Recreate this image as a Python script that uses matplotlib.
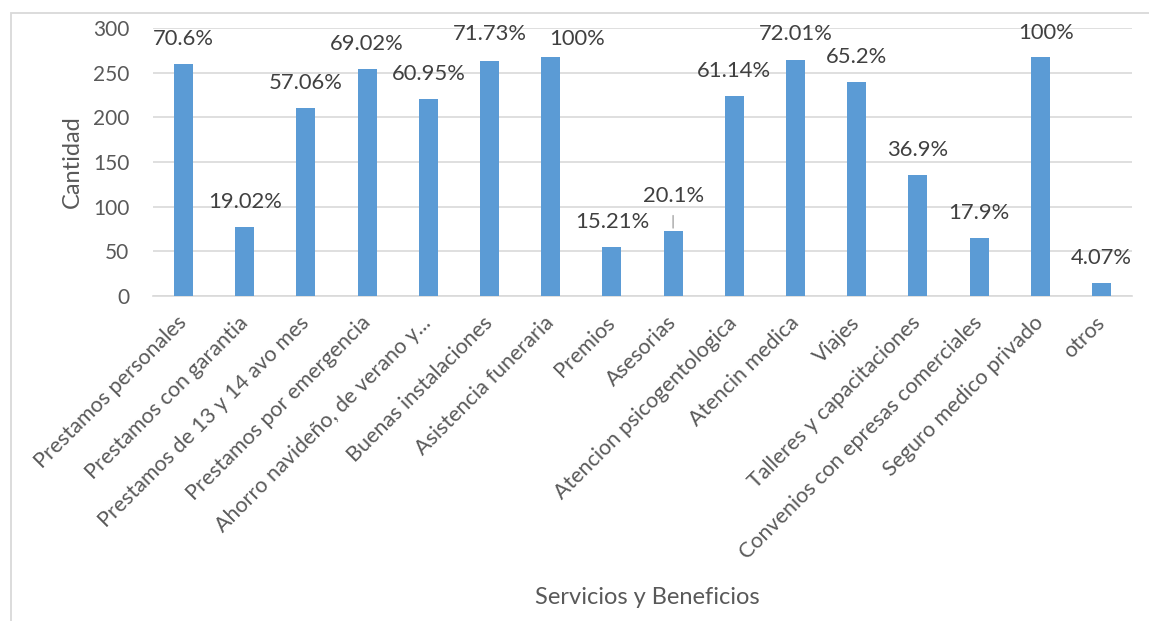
import matplotlib
matplotlib.use("Agg")
import matplotlib.pyplot as plt
from matplotlib.patches import Rectangle

plt.rcParams["font.family"] = ["Lato", "DejaVu Sans"]

categorias = [
    "Prestamos personales", "Prestamos con garantia", "Prestamos de 13 y 14 avo mes",
    "Prestamos por emergencia", "Ahorro navideño, de verano y...", "Buenas instalaciones",
    "Asistencia funeraria", "Premios", "Asesorias", "Atencion psicogentologica",
    "Atencin medica", "Viajes", "Talleres y capacitaciones",
    "Convenios con epresas comerciales", "Seguro medico privado", "otros",
]
cantidad = [260, 77, 210, 254, 220, 263, 268, 55, 73, 224, 264, 240, 135, 65, 268, 14]
porcentajes = ["70.6%", "19.02%", "57.06%", "69.02%", "60.95%", "71.73%", "100%", "15.21%",
               "20.1%", "61.14%", "72.01%", "65.2%", "36.9%", "17.9%", "100%", "4.07%"]
y_ticks = [0, 50, 100, 150, 200, 250, 300]

azul = "#5B9BD5"
gris_txt = "#595959"
gris_linea = "#D9D9D9"

fig = plt.figure(figsize=(11.49, 6.21), dpi=100)
ax = fig.add_axes([153 / 1149, 1 - 296 / 621, (1132 - 153) / 1149, (296 - 28) / 621])

# marco del grafico
fig.patches.append(Rectangle((11 / 1149, -0.1), 1.2, 1 - 13 / 621 + 0.1, transform=fig.transFigure,
                             fill=False, edgecolor=gris_linea, linewidth=1.3))

x = range(len(categorias))
ax.bar(x, cantidad, width=0.31, color=azul, zorder=3)

ax.set_xlim(-0.5, len(categorias) - 0.5)
ax.set_ylim(0, 300)
ax.set_yticks(y_ticks)
ax.yaxis.grid(True, color=gris_linea, linewidth=1.2, zorder=0)
for lado in ["left", "right", "top"]:
    ax.spines[lado].set_visible(False)
ax.spines["bottom"].set_color(gris_linea)
ax.spines["bottom"].set_linewidth(1.2)
ax.tick_params(axis="y", length=0, pad=17, labelsize=15, labelcolor=gris_txt)
ax.tick_params(axis="x", length=0, pad=17, labelsize=15.5, labelcolor=gris_txt)
ax.set_xticks(list(x))
ax.set_xticklabels(categorias, rotation=45, ha="right", va="center", rotation_mode="anchor")

# etiquetas de porcentaje (algunas desplazadas a mano)
desplaz = {6: (26, 18), 8: (0, 35), 14: (6, 24), 5: (0, 27), 10: (0, 26)}
for i, (v, txt) in enumerate(zip(cantidad, porcentajes)):
    dx, dy = desplaz.get(i, (0, 25))
    ax.annotate(txt, (i, v), xytext=(dx, dy), textcoords="offset pixels",
                ha="center", va="center", fontsize=15.8, color="#404040")
    if i == 8:
        ax.annotate("", (i, v), xytext=(0, 18), textcoords="offset pixels",
                    arrowprops=dict(arrowstyle="-", color="#A6A6A6", lw=1))

fig.text(72 / 1149, 1 - 162 / 621, "Cantidad", rotation=90, ha="center", va="center",
         fontsize=17, color=gris_txt)
fig.text(647 / 1149, 1 - 597 / 621, "Servicios y Beneficios", ha="center", va="center",
         fontsize=17, color=gris_txt)

fig.savefig("out.png", dpi=100, facecolor="white")
